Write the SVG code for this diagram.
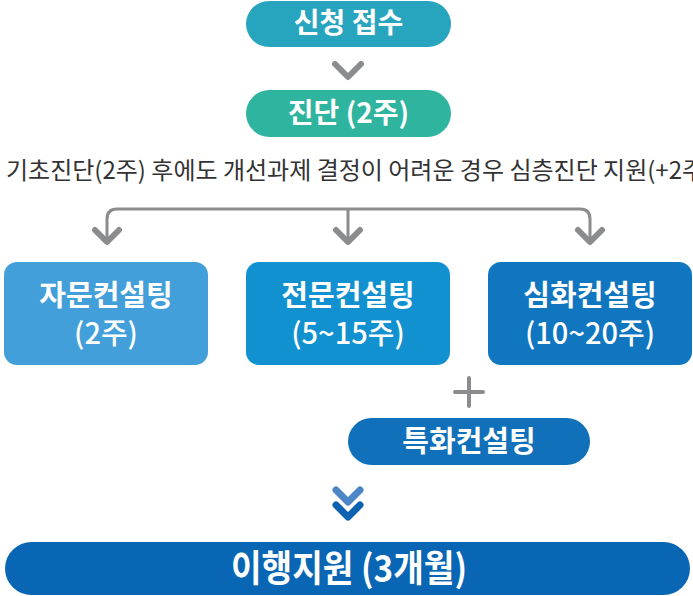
<svg xmlns="http://www.w3.org/2000/svg" width="693" height="596" viewBox="0 0 693 596">
<style>
.lbl{font-family:"Noto Sans CJK KR","Noto Sans",sans-serif;fill:#fff;text-anchor:middle}
.b{font-weight:700}
.m{font-weight:500}
.note{font-family:"Noto Sans CJK KR","Noto Sans",sans-serif;fill:#333;font-size:24px;font-weight:400}
.gray{fill:none;stroke:#8b8c8e;stroke-linecap:round;stroke-linejoin:round}
</style>
<rect width="693" height="596" fill="#fff"/>
<g id="apply">
<rect x="246" y="1" width="205" height="46" rx="23" fill="#28a5be"/>
<text class="lbl b" x="348.5" y="33" font-size="28">신청 접수</text>
</g>
<g id="diag">
<rect x="246" y="90" width="205" height="47" rx="23.5" fill="#2fb4a0"/>
<text class="lbl b" x="348.5" y="123" font-size="28">진단 (2주)</text>
</g>
<text class="note" x="6" y="179">기초진단(2주) 후에도 개선과제 결정이 어려운 경우 심층진단 지원(+2주</text>
<g id="connectors">
<path class="gray" d="M335 64 L348 77 L361 64" stroke-width="6"/>
<path class="gray" d="M107 241 V219 Q107 209 117 209 H580 Q590 209 590 219 V241 M348 209 V241" stroke-width="3"/>
<path class="gray" d="M95 230 L107 242 L119 230 M336 230 L348 242 L360 230 M578 230 L590 242 L602 230" stroke-width="6"/>
<path class="gray" d="M455 392 H483 M469 378 V406" stroke-width="4"/>
<path fill="none" stroke="#4c86c6" stroke-width="7" stroke-linecap="round" stroke-linejoin="round" d="M336 490 L348 502 L360 490"/>
<path fill="none" stroke="#0c62b0" stroke-width="7" stroke-linecap="round" stroke-linejoin="round" d="M336 505 L348 517 L360 505"/>
</g>
<g id="advice">
<rect x="4" y="262" width="204" height="103" rx="13" fill="#439fd9"/>
<text class="lbl b" x="106" y="306" font-size="29">자문컨설팅</text>
<text class="lbl m" x="106" y="344" font-size="29">(2주)</text>
</g>
<g id="expert">
<rect x="246" y="262" width="204" height="103" rx="13" fill="#1291d1"/>
<text class="lbl b" x="348" y="306" font-size="29">전문컨설팅</text>
<text class="lbl m" x="348" y="344" font-size="29">(5~15주)</text>
</g>
<g id="deep">
<rect x="488" y="262" width="204" height="103" rx="13" fill="#1076bf"/>
<text class="lbl b" x="590" y="306" font-size="29">심화컨설팅</text>
<text class="lbl m" x="590" y="344" font-size="29">(10~20주)</text>
</g>
<g id="special">
<rect x="348" y="418" width="242" height="47" rx="23.5" fill="#1070b9"/>
<text class="lbl b" x="469" y="452" font-size="29">특화컨설팅</text>
</g>
<g id="impl">
<rect x="5" y="542" width="685" height="53" rx="26.5" fill="#0866b4"/>
<text class="lbl b" transform="translate(349,0) scale(0.9,1)" x="0" y="582" font-size="37">이행지원 (3개월)</text>
</g>
</svg>
